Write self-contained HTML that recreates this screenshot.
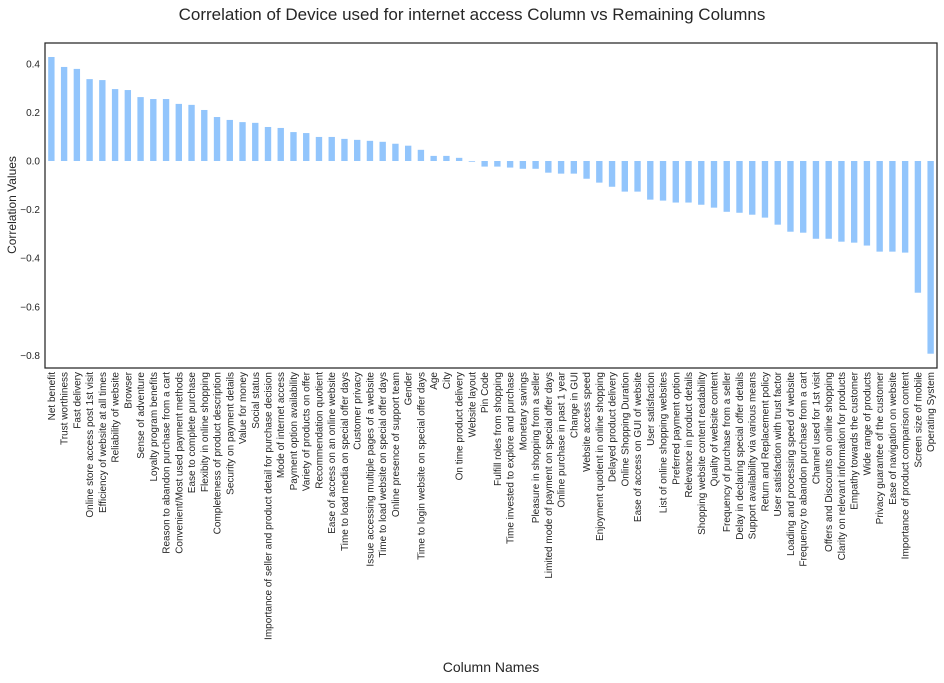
<!DOCTYPE html>
<html><head><meta charset="utf-8"><style>
body{margin:0;background:#fff;}
svg{display:block;font-family:"Liberation Sans",sans-serif;}
</style></head><body>
<svg id="chart" width="944" height="683"></svg>
<script>
const categories=["Net benefit","Trust worthiness","Fast delivery","Online store access post 1st visit","Efficiency of website at all times","Reliability of website","Browser","Sense of adventure","Loyalty program benefits","Reason to abandon purchase from a cart","Convenient/Most used payment methods","Ease to complete purchase","Flexibity in online shopping","Completeness of product description","Security on payment details","Value for money","Social status","Importance of seller and product detail for purchase decision","Mode of internet access","Payment option availability","Variety of products on offer","Recommendation quotient","Ease of access on an online website","Time to load media on special offer days","Customer privacy","Issue accessing multiple pages of a website","Time to load website on special offer days","Online presence of support team","Gender","Time to login website on special offer days","Age","City","On time product delivery","Website layout","Pin Code","Fulfill roles from shopping","Time invested to explore and purchase","Monetary savings","Pleasure in shopping from a seller","Limited mode of payment on special offer days","Online purchase in past 1 year","Change in GUI","Website access speed","Enjoyment quotient in online shopping","Delayed product delivery","Online Shopping Duration","Ease of access on GUI of website","User satisfaction","List of online shopping websites","Preferred payment option","Relevance in product details","Shopping website content readability","Quality of website content","Frequency of purchase from a seller","Delay in declaring special offer details","Support availability via various means","Return and Replacement policy","User satisfaction with trust factor","Loading and processing speed of website","Frequency to abandon purchase from a cart","Channel used for 1st visit","Offers and Discounts on online shopping","Clarity on relevant information for products","Empathy towards the customer","Wide range of products","Privacy guarantee of the customer","Ease of navigation on website","Importance of product comparison content","Screen size of mobile","Operating System"];
const values=[0.428,0.387,0.379,0.337,0.333,0.296,0.292,0.263,0.255,0.255,0.235,0.231,0.21,0.181,0.169,0.16,0.157,0.14,0.136,0.119,0.115,0.099,0.099,0.091,0.087,0.083,0.079,0.071,0.063,0.046,0.021,0.021,0.013,-0.003,-0.023,-0.023,-0.027,-0.032,-0.032,-0.048,-0.052,-0.052,-0.073,-0.089,-0.106,-0.126,-0.126,-0.159,-0.163,-0.171,-0.171,-0.18,-0.192,-0.209,-0.213,-0.221,-0.233,-0.262,-0.291,-0.295,-0.32,-0.32,-0.332,-0.336,-0.348,-0.373,-0.373,-0.377,-0.542,-0.793];
const yTicks=[0.4,0.2,0.0,-0.2,-0.4,-0.6,-0.8];
const yTickLabels=["0.4","0.2","0.0","\u22120.2","\u22120.4","\u22120.6","\u22120.8"];

const NS="http://www.w3.org/2000/svg";
const svg=document.getElementById('chart');
const L=45,R=937,T=43,B=368,Y0=161,K=243;
const y=v=>Y0-v*K;
const step=(R-L)/categories.length;
const x=i=>L+step*(i+0.5);
function mk(tag,attrs,parent){const e=document.createElementNS(NS,tag);for(const k in attrs)e.setAttribute(k,attrs[k]);(parent||svg).appendChild(e);return e;}

const title=mk('text',{x:472,y:20,'text-anchor':'middle','font-size':17,fill:'#262626'});
title.textContent='Correlation of Device used for internet access Column vs Remaining Columns';



const bars=mk('g',{});


values.forEach((v,i)=>{
  const w=step*0.5;
  const r=mk('rect',{x:x(i)-w/2,y:Math.min(y(v),y(0)),width:w,height:Math.max(Math.abs(y(v)-y(0)),0.6),fill:'#92c5fc'},bars);
  
  
});

const frame=mk('rect',{x:L,y:T,width:R-L,height:B-T,fill:'none',stroke:'#262626','stroke-width':1.25});



const yg=mk('g',{'font-size':10,fill:'#262626'});


yTicks.forEach((t,i)=>{
  const e=mk('text',{x:40,y:y(t)+3.5,'text-anchor':'end'},yg);
  e.textContent=yTickLabels[i];
  
  
});

const xg=mk('g',{'font-size':10,fill:'#262626'});


categories.forEach((c,i)=>{
  const px=x(i)+3.5,py=372;
  const e=mk('text',{x:px,y:py,'text-anchor':'end',transform:`rotate(-90 ${px} ${py})`},xg);
  e.textContent=c;
  
  
});

const yt=mk('text',{x:16,y:205,'text-anchor':'middle','font-size':12,fill:'#262626',transform:'rotate(-90 16 205)'});
yt.textContent='Correlation Values';



const xt=mk('text',{x:491,y:672,'text-anchor':'middle','font-size':14,fill:'#262626'});
xt.textContent='Column Names';


</script>
</body></html>
